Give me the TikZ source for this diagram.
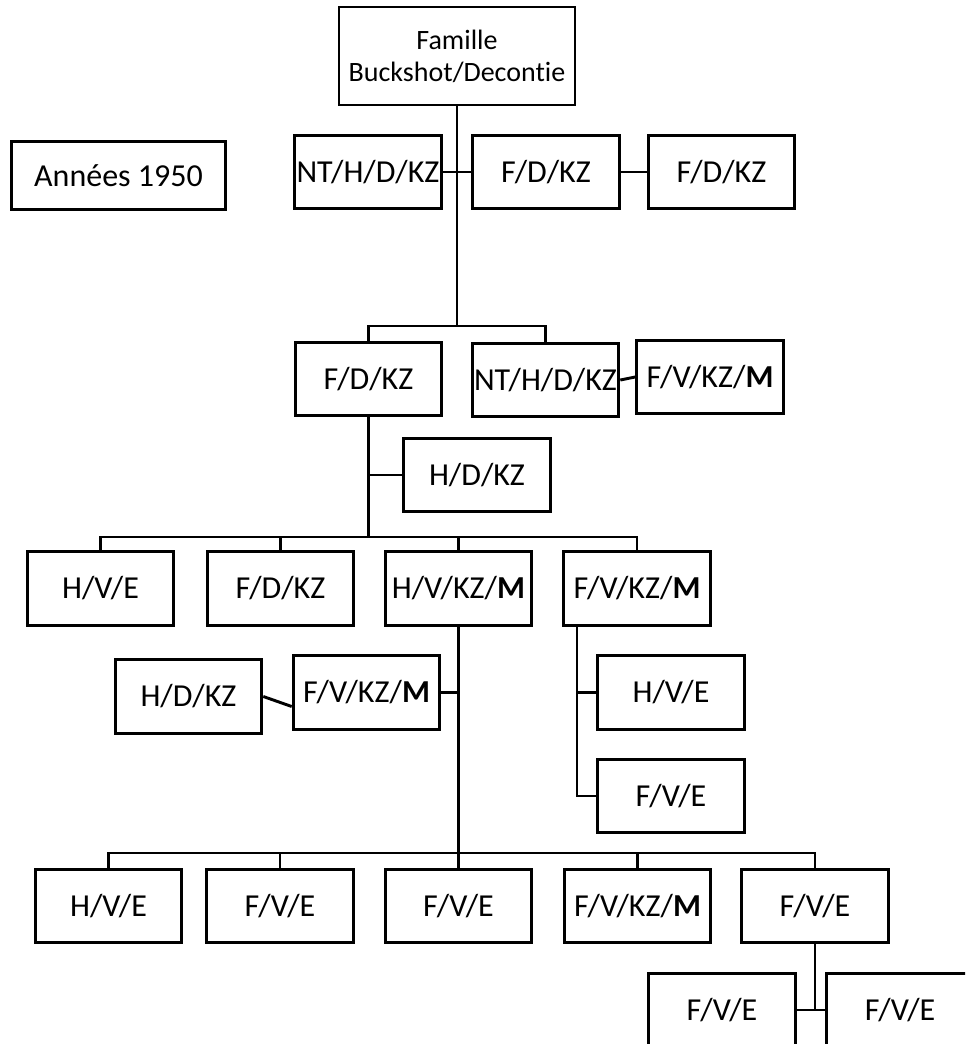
\documentclass[tikz,border=0pt]{standalone}
\usepackage{fontspec}
\setmainfont{Carlito}[Ligatures=NoCommon]
\begin{document}
\begin{tikzpicture}[x=0.75pt, y=-0.75pt, line width=2.2pt,
    box/.style={draw, minimum width=110pt, minimum height=55pt, inner sep=0pt,
      font=\fontsize{24}{28}\selectfont}]

        \useasboundingbox (0,0) rectangle (965,1044);
        \clip (0,0) rectangle (965,1044);

        % Famille et titre
        \node[box, minimum width=177pt, minimum height=73.5pt, align=center,
          font=\fontsize{21}{24}\selectfont] (root) at (457,56) {Famille\\Buckshot/Decontie};
        \node[box, minimum width=161pt, minimum height=51pt] (annees) at (118.5,175.5) {Années 1950};

        % Premiere rangee
        \node[box] (a1) at (368,172) {NT/H/D/KZ};
        \node[box] (a2) at (546,172) {F/D/KZ};
        \node[box] (a3) at (721.5,172) {F/D/KZ};

        % Deuxieme rangee
        \node[box] (b1) at (368.5,379) {F/D/KZ};
        \node[box] (b2) at (545.5,380) {NT/H/D/KZ};
        \node[box] (b3) at (710,377) {F/V/KZ/\textbf{M}};
        \node[box] (c1) at (477,475) {H/D/KZ};

        % Troisieme rangee
        \node[box] (d1) at (100.5,588.5) {H/V/E};
        \node[box] (d2) at (280.5,588.5) {F/D/KZ};
        \node[box] (d3) at (458.5,588.5) {H/V/KZ/\textbf{M}};
        \node[box] (d4) at (637,588.5) {F/V/KZ/\textbf{M}};

        \node[box] (e0) at (188.5,696.5) {H/D/KZ};
        \node[box] (e1) at (366.5,692.5) {F/V/KZ/\textbf{M}};
        \node[box] (e2) at (671,692.5) {H/V/E};
        \node[box] (e3) at (671,796) {F/V/E};

        % Quatrieme rangee
        \node[box] (f1) at (108.5,906) {H/V/E};
        \node[box] (f2) at (280,906) {F/V/E};
        \node[box] (f3) at (458.5,906) {F/V/E};
        \node[box] (f4) at (637.5,906) {F/V/KZ/\textbf{M}};
        \node[box] (f5) at (815,906) {F/V/E};

        \node[box] (g1) at (722,1010) {F/V/E};
        \node[box] (g2) at (900,1010) {F/V/E};

        % Points de branchement
        \coordinate (j1) at (457,326);
        \coordinate (j2) at (368.5,537);
        \coordinate (j3) at (458.5,853);
        \coordinate (d4s) at ([xshift=-45pt]d4.south);

        % Liens
        \draw (root.south) -- (j1);
        \draw (a1.east) -- (a2.west);
        \draw (a2.east) -- (a3.west);
        \draw (b1.north) |- (j1) -| (b2.north);
        \draw (b2.east) -- (b3.west);

        \draw (b1.south) -- (j2);
        \draw (c1.west) -- (c1.west -| b1.south);
        \draw (d1.north) |- (j2) -| (d4.north);
        \foreach \n in {d2,d3}
        \draw (\n.north) -- (\n.north |- j2);

        \draw (d3.south) -- (j3);
        \draw (e1.east) -- (e1.east -| d3.south);
        \draw (e0.east) -- ([yshift=-10.5pt]e1.west);
        \draw (d4s) |- (e3.west);
        \draw (e2.west) -- (e2.west -| d4s);

        \draw (f1.north) |- (j3) -| (f5.north);
        \foreach \n in {f2,f3,f4}
        \draw (\n.north) -- (\n.north |- j3);

        \draw (f5.south) -- (f5.south |- g1.east);
        \draw (g1.east) -- (g2.west);

    \end{tikzpicture}
\end{document}
